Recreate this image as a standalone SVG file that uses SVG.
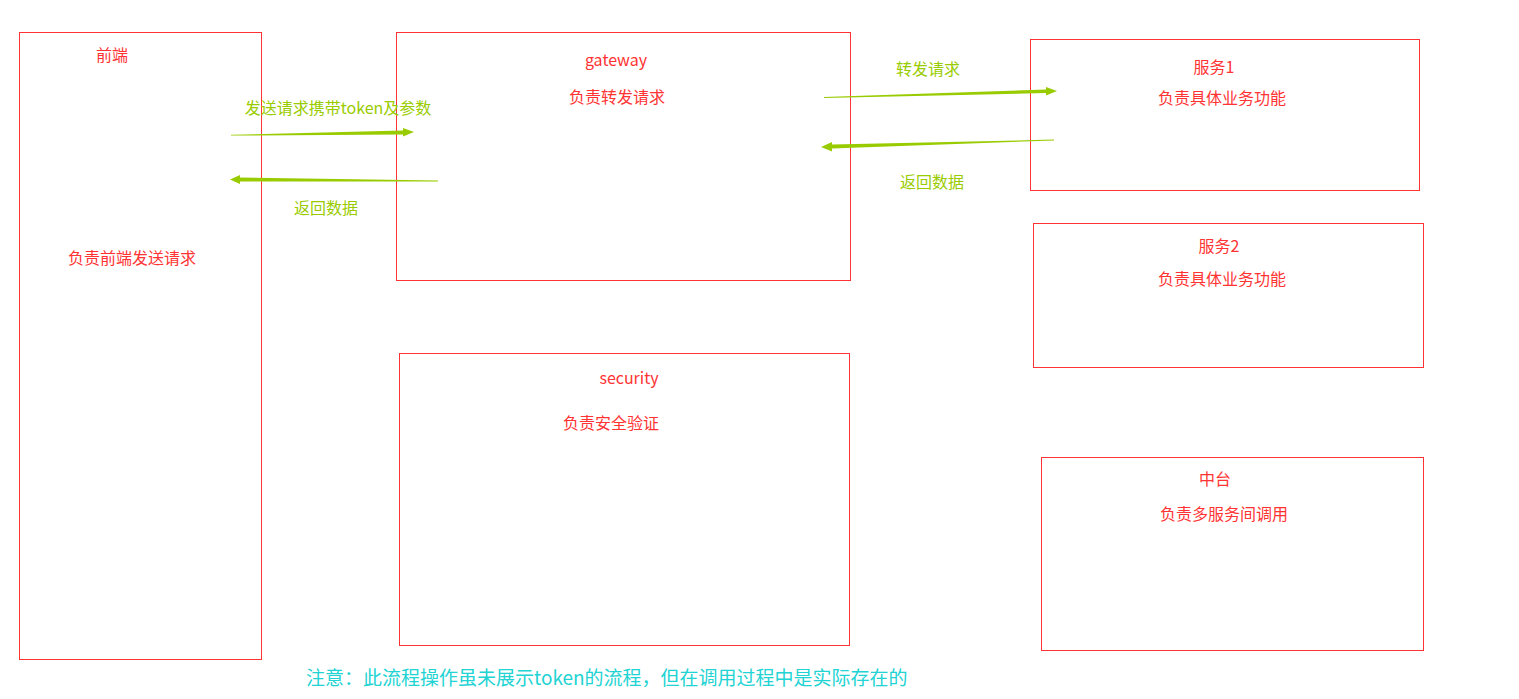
<svg xmlns="http://www.w3.org/2000/svg" width="1519" height="699" viewBox="0 0 1519 699">
<style>
.box{fill:none;stroke:#ff3333;stroke-width:1}
.t{font-family:"Noto Sans CJK SC","Noto Sans",sans-serif;font-size:16px;fill:#ff3333;text-anchor:middle}
.g{font-family:"Noto Sans CJK SC","Noto Sans",sans-serif;font-size:16px;fill:#99cc00;text-anchor:middle}
.arr{fill:#99cc00}
.note{font-family:"Noto Sans CJK SC","Noto Sans",sans-serif;font-size:19px;fill:#22d3d3}
</style>
<rect width="1519" height="699" fill="#ffffff"/>
<g id="frontend">
<rect class="box" x="19.5" y="32.5" width="242" height="627"/>
<text class="t" x="112" y="61">前端</text>
<text class="t" x="132" y="264">负责前端发送请求</text>
</g>
<g id="gateway">
<rect class="box" x="396.5" y="32.5" width="454" height="248"/>
<text class="t" x="616" y="66">gateway</text>
<text class="t" x="617" y="103">负责转发请求</text>
</g>
<g id="security">
<rect class="box" x="399.5" y="353.5" width="450" height="292"/>
<text class="t" x="629" y="384">security</text>
<text class="t" x="611" y="429">负责安全验证</text>
</g>
<g id="service1">
<rect class="box" x="1030.5" y="39.5" width="389" height="151"/>
<text class="t" x="1214" y="73">服务1</text>
<text class="t" x="1222" y="104">负责具体业务功能</text>
</g>
<g id="service2">
<rect class="box" x="1033.5" y="223.5" width="390" height="144"/>
<text class="t" x="1219" y="252">服务2</text>
<text class="t" x="1222" y="285">负责具体业务功能</text>
</g>
<g id="middle">
<rect class="box" x="1041.5" y="457.5" width="382" height="193"/>
<text class="t" x="1215" y="485">中台</text>
<text class="t" x="1224" y="520">负责多服务间调用</text>
</g>
<g id="connectors">
<polygon class="arr" points="231,134.8 403,130.5 403,128 414,132 403,136.5 403,134.5 231,135.6"/>
<polygon class="arr" points="438,180.6 240,177.5 240,175 230,179.5 240,184 240,181.5 438,181.4"/>
<polygon class="arr" points="824,97 1046,89.5 1046,87 1057,91 1046,95.5 1046,93 824,98"/>
<polygon class="arr" points="1054,139.6 832,144.5 832,142 821,147 832,151.5 832,148.5 1054,140.4"/>
<text class="g" x="338" y="114">发送请求携带token及参数</text>
<text class="g" x="326" y="214">返回数据</text>
<text class="g" x="928" y="75">转发请求</text>
<text class="g" x="932" y="188">返回数据</text>
</g>
<text class="note" x="306" y="685">注意：此流程操作虽未展示token的流程，但在调用过程中是实际存在的</text>
</svg>
